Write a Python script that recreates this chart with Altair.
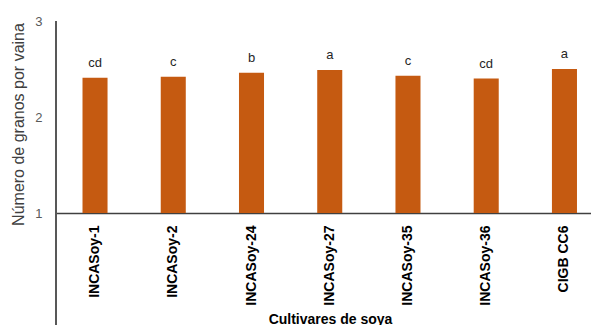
import altair as alt
import pandas as pd

# Seed cultivars, mean grains per pod, and significance letters
cultivares = ["INCASoy-1", "INCASoy-2", "INCASoy-24", "INCASoy-27",
              "INCASoy-35", "INCASoy-36", "CIGB CC6"]
granos = [2.41, 2.42, 2.46, 2.49, 2.43, 2.40, 2.50]
letras = ["cd", "c", "b", "a", "c", "cd", "a"]
ticks_y = [1, 2, 3]

df = pd.DataFrame({"cultivar": cultivares, "granos": granos, "letra": letras})

FONT = "Liberation Sans"
AXIS_GRAY = "#595959"

x_scale = alt.Scale(paddingInner=0.68, paddingOuter=0.259, align=0.654)
y_scale = alt.Scale(domain=[1, 3], nice=False, zero=False)

x_axis = alt.Axis(
    title="Cultivares de soya",
    labelAngle=-90,
    labelFontWeight="bold",
    labelFontSize=14,
    labelColor="#000000",
    labelPadding=12,
    ticks=False,
    domainColor="#404040",
    titleFontWeight="bold",
    titleFontSize=14,
    titleColor="#000000",
    titleX=274,
    titleY=106,
    titleAlign="center",
    titleBaseline="middle",
)

y_axis = alt.Axis(
    title="Número de granos por vaina",
    values=ticks_y,
    format=".0f",
    grid=False,
    ticks=False,
    domain=False,
    labelOverlap=False,
    labelFontSize=13,
    labelColor=AXIS_GRAY,
    labelPadding=14,
    titleFontSize=16,
    titleFontWeight="normal",
    titleColor="#404040",
    titleAngle=270,
    titleX=-38,
    titleY=103,
    titleAlign="center",
    titleBaseline="middle",
)

bars = alt.Chart(df).mark_bar(color="#C55A11").encode(
    x=alt.X("cultivar:N", sort=cultivares, scale=x_scale, axis=x_axis),
    y=alt.Y("granos:Q", scale=y_scale, axis=y_axis),
    y2=alt.datum(1),
)

text = alt.Chart(df).mark_text(
    baseline="bottom", dy=-8, fontSize=13, font=FONT, color="#262626"
).encode(
    x=alt.X("cultivar:N", sort=cultivares, scale=x_scale, axis=x_axis),
    y=alt.Y("granos:Q", scale=y_scale, axis=y_axis),
    text="letra:N",
)

# vertical axis line that runs down past the category labels
eje = alt.Chart(df).mark_rule(color=AXIS_GRAY, strokeWidth=1.5).encode(
    x=alt.value(0), y=alt.value(0), y2=alt.value(305)
)

chart = (
    alt.layer(bars, text, eje)
    .properties(
        width=535,
        height=192,
        autosize=alt.AutoSizeParams(type="none"),
        padding={"left": 56, "top": 21, "right": 0, "bottom": 112},
        background="white",
    )
    .configure_view(stroke=None)
    .configure_axis(labelFont=FONT, titleFont=FONT, domainWidth=1.5)
    .configure_text(font=FONT)
)

chart.save("out.html", embed_options={"renderer": "svg", "actions": False})
